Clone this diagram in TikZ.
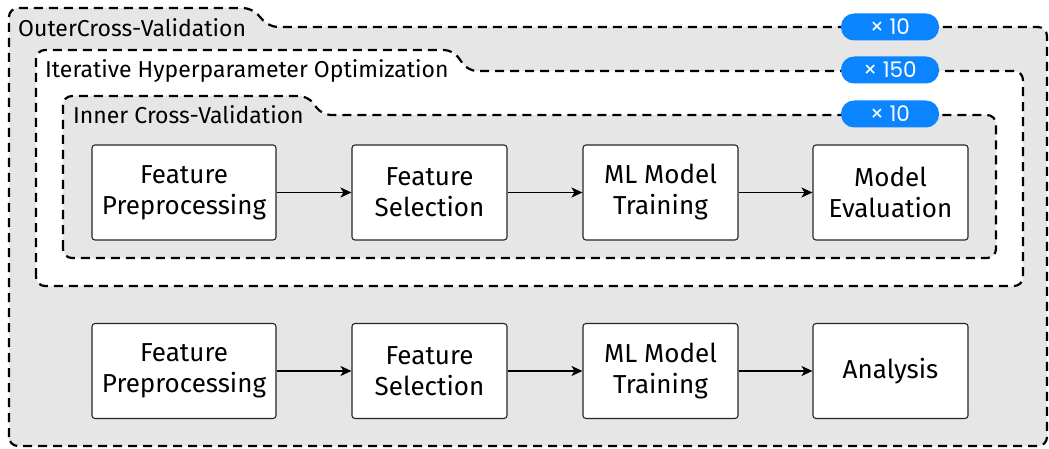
\documentclass[tikz,border=0pt]{standalone}
\usepackage{fontspec}
\setmainfont{Fira Sans}
\newfontfamily\badgefont{Poppins}
\usepackage{tikz}
\usetikzlibrary{arrows.meta}

\definecolor{bggray}{HTML}{E6E6E6}
\definecolor{badgeblue}{HTML}{0A84FF}

\begin{document}
\begin{tikzpicture}[x=1pt, y=-1pt,
    folder/.style={line width=2.2pt, dash pattern=on 9pt off 6pt, rounded corners=9pt},
    stage/.style={draw=black!85, line width=1.1pt, fill=white, rounded corners=3pt,
        minimum width=155pt, minimum height=95pt, inner sep=2pt, align=center,
        font=\fontsize{26}{31}\selectfont},
    tablabel/.style={anchor=west, inner sep=0pt, font=\fontsize{23}{26}\selectfont},
    repeat/.style={fill=badgeblue, text=white, rounded corners=13pt,
        minimum width=98pt, minimum height=27pt, inner sep=0pt,
        font=\badgefont\fontsize{21.5}{24}\selectfont},
    flow/.style={line width=1.8pt, -{Stealth[length=11pt,width=10pt,inset=3pt]}}]
    \useasboundingbox (0,0) rectangle (1049,449);

    %----------------------------------------
    % FOLDERS (outer / hyperparameter / inner)
    %----------------------------------------
    \draw[folder, fill=bggray] (9,446) -- (9,8) -- (252,8) -- (269,27)
        -- (1047,27) -- (1047,446) -- cycle;
    \draw[folder, fill=white] (36,286) -- (36,50) -- (453,50) -- (468,71)
        -- (1023,71) -- (1023,286) -- cycle;
    \draw[folder, fill=bggray] (63,258) -- (63,96) -- (308,96) -- (322,115)
        -- (996,115) -- (996,258) -- cycle;

    % tab labels
    \node[tablabel] (outerlbl) at (18,28) {OuterCross-Validation};
    \node[tablabel] (hyperlbl) at (45,71) {Iterative Hyperparameter Optimization};
    \node[tablabel] (innerlbl) at (73,115) {Inner Cross-Validation};

    % repetition counts
    \node[repeat] (outerrep) at (890,27) {× 10};
    \node[repeat] (hyperrep) at (890,70) {× 150};
    \node[repeat] (innerrep) at (890,114) {× 10};

    %----------------------------------------
    % Pipeline inside inner CV
    %----------------------------------------
    \node[stage, minimum width=184pt] (fp1) at (184,192.5) {Feature\\Preprocessing};
    \node[stage] (fs1) at (429.5,192.5) {Feature\\Selection};
    \node[stage] (ml1) at (660.5,192.5) {ML Model\\Training};
    \node[stage] (ev1) at (890.5,192.5) {Model\\Evaluation};

    %----------------------------------------
    % Final pipeline
    %----------------------------------------
    \node[stage, minimum width=184pt] (fp2) at (184,371) {Feature\\Preprocessing};
    \node[stage] (fs2) at (429.5,371) {Feature\\Selection};
    \node[stage] (ml2) at (660.5,371) {ML Model\\Training};
    \node[stage] (an2) at (890.5,371) {Analysis};

    \foreach \a/\b in {fp1/fs1, fs1/ml1, ml1/ev1, fp2/fs2, fs2/ml2, ml2/an2}{
       \draw[flow] (\a) -- (\b);
    }

\end{tikzpicture}
\end{document}
